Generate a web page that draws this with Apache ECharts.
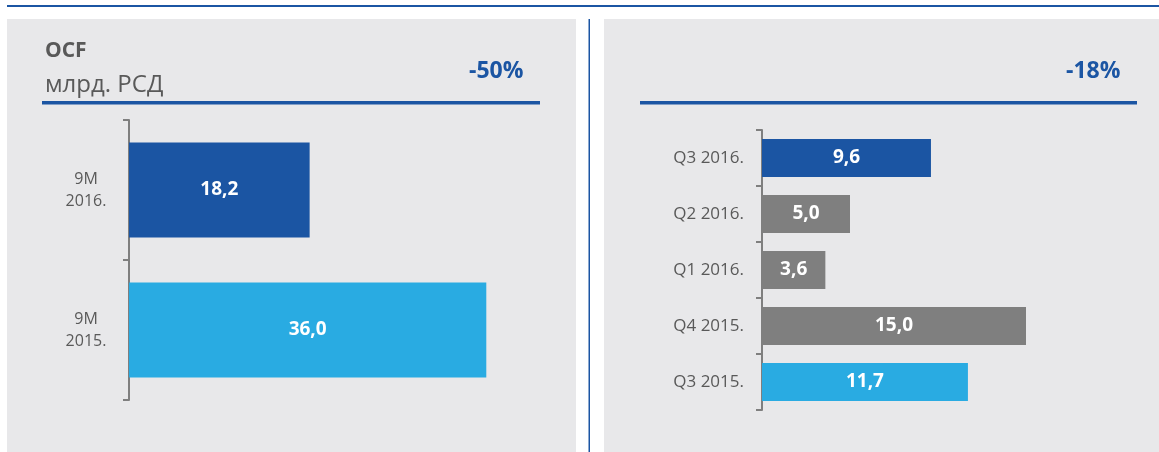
<!DOCTYPE html>
<html>
<head>
<meta charset="utf-8">
<script src="https://cdn.jsdelivr.net/npm/echarts@6/dist/echarts.min.js"></script>
<style>
  html, body { margin: 0; padding: 0; background: #ffffff; }
  #main { width: 1159px; height: 452px; }
</style>
</head>
<body>
<div id="main"></div>
<script>
// data
const leftCategories = ['9M\n2016.', '9M\n2015.'];
const leftValues = [18.2, 36.0];
const rightCategories = ['Q3 2016.', 'Q2 2016.', 'Q1 2016.', 'Q4 2015.', 'Q3 2015.'];
const rightValues = [9.6, 5.0, 3.6, 15.0, 11.7];
const leftChange = '-50%';
const rightChange = '-18%';

// colours
const DARK = '#1B55A3';
const LIGHT = '#29ABE2';
const GREY = '#7F7F7F';
const BG = '#E8E8EA';
const TEXT = '#595959';
const leftColors = [DARK, LIGHT];
const rightColors = [DARK, GREY, GREY, GREY, LIGHT];

const FONT = 'Open Sans';

const fmt = p => p.value.toFixed(1).replace('.', ',');

const barLabel = {
  show: true,
  position: 'inside',
  color: '#ffffff',
  fontWeight: 'bold',
  fontSize: 19,
  fontFamily: FONT,
  formatter: fmt
};

const catAxis = {
  type: 'category',
  inverse: true,
  axisLine: { lineStyle: { color: GREY, width: 2 } },
  axisTick: { show: true, length: 6, lineStyle: { color: GREY, width: 2 } },
  splitLine: { show: false }
};

function txt(x, y, s, size, weight, color) {
  return {
    type: 'text', left: x, top: y,
    style: { text: s, fill: color, fontSize: size, fontWeight: weight, fontFamily: FONT }
  };
}

const option = {
  backgroundColor: '#ffffff',
  animation: false,
  graphic: [
    { type: 'rect', shape: { x: 7, y: 19, width: 569, height: 433 }, style: { fill: BG }, z: -10 },
    { type: 'rect', shape: { x: 604, y: 19, width: 555, height: 433 }, style: { fill: BG }, z: -10 },
    { type: 'rect', shape: { x: 7, y: 5, width: 1152, height: 2 }, style: { fill: DARK } },
    { type: 'rect', shape: { x: 588.5, y: 19, width: 1.5, height: 433 }, style: { fill: DARK } },
    { type: 'rect', shape: { x: 42, y: 101, width: 498, height: 3.5 }, style: { fill: DARK } },
    { type: 'rect', shape: { x: 640, y: 101, width: 497, height: 3.5 }, style: { fill: DARK } },
    txt(45, 41, 'OCF', 21, 'bold', TEXT),
    txt(45, 73, 'млрд. РСД', 24, 'normal', TEXT),
    txt(469, 60, leftChange, 23, 'bold', DARK),
    txt(1066, 60, rightChange, 23, 'bold', DARK)
  ],
  grid: [
    { left: 129, top: 120, width: 397, height: 280 },
    { left: 762, top: 130, width: 352, height: 280 }
  ],
  xAxis: [
    { gridIndex: 0, type: 'value', min: 0, max: 40, show: false },
    { gridIndex: 1, type: 'value', min: 0, max: 20, show: false }
  ],
  yAxis: [
    Object.assign({}, catAxis, {
      gridIndex: 0,
      data: leftCategories,
      axisLabel: { color: TEXT, fontSize: 16, fontFamily: FONT, lineHeight: 22, align: 'center', margin: 43 }
    }),
    Object.assign({}, catAxis, {
      gridIndex: 1,
      data: rightCategories,
      axisLabel: { color: TEXT, fontSize: 17, fontFamily: FONT, margin: 18 }
    })
  ],
  series: [
    {
      type: 'bar',
      xAxisIndex: 0,
      yAxisIndex: 0,
      barCategoryGap: '32%',
      data: leftValues.map((v, i) => ({ value: v, itemStyle: { color: leftColors[i] } })),
      label: barLabel
    },
    {
      type: 'bar',
      xAxisIndex: 1,
      yAxisIndex: 1,
      barCategoryGap: '32%',
      data: rightValues.map((v, i) => ({ value: v, itemStyle: { color: rightColors[i] } })),
      label: barLabel
    }
  ]
};

const chart = echarts.init(document.getElementById('main'));
chart.setOption(option);
</script>
</body>
</html>
